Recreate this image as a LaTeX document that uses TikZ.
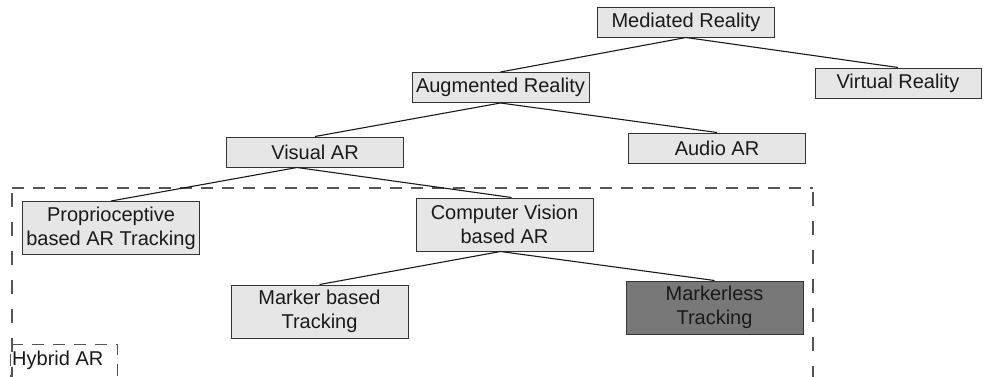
\documentclass[tikz,border=0pt]{standalone}
\usepackage{fontspec}
\setmainfont{Liberation Sans}
\definecolor{boxfill}{HTML}{E6E6E6}
\definecolor{boxline}{HTML}{333333}
\definecolor{darkfill}{HTML}{787878}
\definecolor{inkcol}{HTML}{1A1A1A}
\definecolor{dashcol}{HTML}{555555}
\begin{document}
\begin{tikzpicture}[x=1bp,y=-1bp,
  every node/.style={font=\fontsize{20bp}{24bp}\selectfont, text=inkcol},
  catbox/.style={draw=boxline, fill=boxfill, line width=1bp, inner sep=0pt,
                 minimum width=177bp, align=center},
  onerow/.style={catbox, minimum height=30bp},
  tworow/.style={catbox, minimum height=53bp},
  branch/.style={draw=inkcol, line width=1.1bp},
  hdash/.style={draw=dashcol, line width=1.4bp, dash pattern=on 12bp off 9bp},
  vdash/.style={draw=dashcol, line width=1.4bp, dash pattern=on 14bp off 15bp}]
\useasboundingbox (0,0) rectangle (984,376);

% grouping frame for the hybrid approaches
\coordinate (fTL) at (12,188);
\coordinate (fTR) at (813,188);
\coordinate (fBL) at (12,380);
\coordinate (fBR) at (813,380);
\draw[hdash] (fTL) -- (fTR);
\draw[vdash, dash phase=-5bp] (fTL) -- (fBL);
\draw[vdash, dash phase=-4bp] (fTR) -- (fBR);

% taxonomy boxes
\node[onerow] (med) at (686,22) {Mediated Reality};
\node[onerow] (aug) at (500.5,87.5) {Augmented Reality};
\node[onerow, minimum width=166bp] (vr) at (898,83) {Virtual Reality};
\node[onerow] (vis) at (315,152) {Visual AR};
\node[onerow] (aud) at (717,148) {Audio AR};
\node[tworow, minimum width=176bp] (pro) at (111,228) {Proprioceptive\\based AR Tracking};
\node[tworow] (cv) at (504.5,224.5) {Computer Vision\\based AR};
\node[tworow] (mk) at (319.5,311.5) {Marker based\\Tracking};
\node[tworow, fill=darkfill] (mkl) at (714.5,307.5) {Markerless\\Tracking};

% branches of the tree
\draw[branch] (med.south) -- (aug.north);
\draw[branch] (med.south) -- (vr.north);
\draw[branch] (aug.south) -- (vis.north);
\draw[branch] (aug.south) -- (aud.north);
\draw[branch] ([xshift=-18bp]vis.south) -- (pro.north);
\draw[branch] ([xshift=-18bp]vis.south) -- ([xshift=7bp]cv.north);
\draw[branch] ([xshift=-4bp]cv.south) -- (mk.north);
\draw[branch] ([xshift=-4bp]cv.south) -- (mkl.north);

% label tab of the frame
\node[draw=dashcol, line width=1.4bp, dash pattern=on 12bp off 9bp,
      anchor=north west, minimum width=107bp, minimum height=50bp,
      inner sep=2bp, text depth=0pt] (hyb) at (10,344) {};
\node[anchor=base west, inner sep=0pt] (hybtxt) at (12,365) {Hybrid AR};
\end{tikzpicture}
\end{document}
